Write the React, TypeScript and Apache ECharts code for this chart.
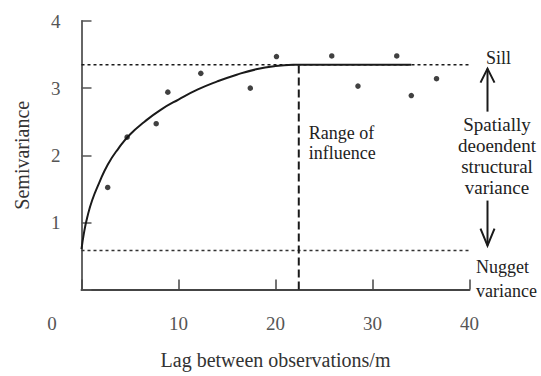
import React, { useEffect, useRef } from "react";
import * as echarts from "echarts";

// Experimental semivariance at each lag (m)
const lagX = [2.7, 4.7, 7.7, 8.9, 12.3, 17.4, 20.1, 25.8, 28.5, 32.5, 34.0, 36.6];
const semiY = [1.52, 2.27, 2.47, 2.94, 3.22, 3.0, 3.47, 3.48, 3.03, 3.48, 2.89, 3.14];

// Fitted model curve, rising from the nugget to the sill
const modelX = [0, 0.25, 0.6, 1.1, 1.8, 2.7, 3.8, 5.0, 6.5, 8.2, 10.0, 12.0, 14.0, 16.0, 18.0, 20.0, 21.8];
const modelY = [0.6, 0.84, 1.08, 1.33, 1.58, 1.86, 2.1, 2.31, 2.5, 2.68, 2.83, 2.98, 3.1, 3.2, 3.28, 3.33, 3.35];
// Plateau of the model beyond the range
const plateauX = [21.8, 34];

const SILL = 3.35;
const NUGGET = 0.58;
const RANGE = 22.4;
const GUIDE_END = 41.1;

const xTicks = [0, 10, 20, 30, 40];
const yTicks = [0, 1, 2, 3, 4];

const FONT = "Liberation Serif";
const INK = "#1a1a1a";

export default function App() {
  const ref = useRef<HTMLDivElement>(null);

  useEffect(() => {
    document.body.style.margin = "0";
    const el = ref.current;
    if (!el) return;
    const chart = echarts.init(el, null, { renderer: "svg" });

    chart.setOption({
      animation: false,
      backgroundColor: "#ffffff",
      textStyle: { fontFamily: FONT },
      grid: { left: 81.5, right: 71.5, top: 21, bottom: 86.5, containLabel: false },
      xAxis: {
        type: "value",
        min: xTicks[0],
        max: xTicks[xTicks.length - 1],
        interval: 10,
        name: "Lag between observations/m",
        nameLocation: "middle",
        nameGap: 60,
        nameTextStyle: { fontFamily: FONT, fontSize: 20, color: "#333" },
        axisLine: { show: true, onZero: false, lineStyle: { color: "#444", width: 2 } },
        axisTick: { show: true, inside: true, length: 10, lineStyle: { color: "#444", width: 1.5 } },
        axisLabel: {
          margin: 24,
          fontFamily: FONT,
          fontSize: 19,
          color: "#555",
          formatter: (v: number) => (v === 0 ? "{z|0}" : String(v)),
          rich: { z: { fontFamily: FONT, fontSize: 19, color: "#555", padding: [0, 59, 0, 0] } },
        },
        splitLine: { show: false },
      },
      yAxis: {
        type: "value",
        min: yTicks[0],
        max: yTicks[yTicks.length - 1],
        interval: 1,
        name: "Semivariance",
        nameLocation: "middle",
        nameGap: 50,
        nameTextStyle: { fontFamily: FONT, fontSize: 20, color: "#333" },
        axisLine: { show: true, onZero: false, lineStyle: { color: "#666", width: 2 } },
        axisTick: { show: true, inside: true, length: 10, lineStyle: { color: "#555", width: 1.5 } },
        axisLabel: {
          margin: 21,
          fontFamily: FONT,
          fontSize: 19,
          color: "#555",
          formatter: (v: number) => (v === 0 ? "" : String(v)),
        },
        splitLine: { show: false },
      },
      series: [
        {
          name: "sill",
          type: "line",
          clip: false,
          symbol: "none",
          silent: true,
          data: [[0, SILL], [GUIDE_END, SILL]],
          lineStyle: { color: INK, width: 1.5, type: [3, 3] },
          z: 1,
        },
        {
          name: "nugget",
          type: "line",
          clip: false,
          symbol: "none",
          silent: true,
          data: [[0, NUGGET], [GUIDE_END, NUGGET]],
          lineStyle: { color: "#333", width: 1.5, type: [3, 3] },
          z: 1,
        },
        {
          name: "range",
          type: "line",
          symbol: "none",
          silent: true,
          data: [[RANGE, 0], [RANGE, SILL]],
          lineStyle: { color: INK, width: 2, type: [8, 4] },
          z: 2,
        },
        {
          name: "model",
          type: "line",
          symbol: "none",
          smooth: 0.5,
          data: modelX.map((x, i) => [x, modelY[i]]),
          lineStyle: { color: INK, width: 2 },
          z: 3,
        },
        {
          name: "plateau",
          type: "line",
          symbol: "none",
          data: plateauX.map((x) => [x, SILL]),
          lineStyle: { color: INK, width: 2 },
          z: 3,
        },
        {
          name: "observed",
          type: "scatter",
          symbol: "circle",
          symbolSize: 5.5,
          data: lagX.map((x, i) => [x, semiY[i]]),
          itemStyle: { color: "#111" },
          z: 4,
        },
      ],
    });

    const ySill = chart.convertToPixel({ gridIndex: 0 }, [0, SILL])[1];
    const yNug = chart.convertToPixel({ gridIndex: 0 }, [0, NUGGET])[1];
    const xRange = chart.convertToPixel({ gridIndex: 0 }, [RANGE, 0])[0];
    const ax = 487.5;
    const textStyle = { fontFamily: FONT, fontSize: 18, fill: "#222" };
    const arrowStyle = { stroke: INK, lineWidth: 2, fill: "none" };

    chart.setOption({
      graphic: [
        // upward arrow to the sill
        { type: "line", shape: { x1: ax, y1: ySill + 4, x2: ax, y2: ySill + 47 }, style: arrowStyle },
        {
          type: "polyline",
          shape: { points: [[ax - 7, ySill + 18], [ax, ySill + 4], [ax + 7, ySill + 18]] },
          style: arrowStyle,
        },
        // downward arrow to the nugget
        { type: "line", shape: { x1: ax, y1: yNug - 50, x2: ax, y2: yNug - 5 }, style: arrowStyle },
        {
          type: "polyline",
          shape: { points: [[ax - 7, yNug - 22], [ax, yNug - 5], [ax + 7, yNug - 22]] },
          style: arrowStyle,
        },
        {
          type: "text",
          x: 486,
          y: ySill - 7,
          style: { ...textStyle, text: "Sill", textAlign: "left", textVerticalAlign: "middle" },
        },
        {
          type: "text",
          x: 497,
          y: ySill + 49,
          style: {
            ...textStyle,
            fontSize: 19,
            text: "Spatially\ndeoendent\nstructural\nvariance",
            textAlign: "center",
            lineHeight: 21,
          },
        },
        {
          type: "text",
          x: 476,
          y: yNug + 4,
          style: { ...textStyle, text: "Nugget\nvariance", textAlign: "left", lineHeight: 24 },
        },
        {
          type: "text",
          x: xRange + 10,
          y: 123,
          style: { ...textStyle, text: "Range of\ninfluence", textAlign: "left", lineHeight: 20 },
        },
      ],
    });

    return () => chart.dispose();
  }, []);

  return <div ref={ref} style={{ width: 541, height: 376 }} />;
}
